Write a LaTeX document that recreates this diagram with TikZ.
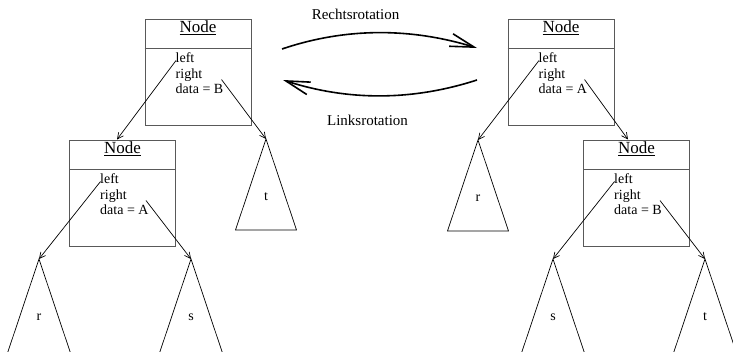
\documentclass[tikz,border=0pt]{standalone}
\usepackage{fontspec}
\setmainfont{Liberation Serif}
\usetikzlibrary{arrows.meta}
\definecolor{boxgray}{gray}{0.35}
\tikzset{
  box/.style={draw=boxgray, line width=1pt, minimum width=106pt, minimum height=106pt, inner sep=0pt},
  divider/.style={draw=boxgray, line width=1pt},
  title/.style={font=\fontsize{17}{17}\selectfont, inner sep=0pt, anchor=base},
  field/.style={font=\fontsize{14}{14}\selectfont, inner sep=0pt, anchor=base west},
  conn/.style={line width=0.7pt, -{Straight Barb[length=6pt,width=6pt]}},
  tri/.style={line width=0.7pt},
  trilabel/.style={font=\fontsize{14}{14}\selectfont, inner sep=0pt},
  rot/.style={line width=1.6pt, -{Straight Barb[length=24pt,width=13pt]}},
  rotlabel/.style={font=\fontsize{15}{15}\selectfont, inner sep=0pt, anchor=base},
}
\begin{document}
\begin{tikzpicture}[x=1pt,y=-1pt]
\clip (0,0) rectangle (733,351);
% boxes
\node[box] (n1) at (198,72) {};
\node[box] (n2) at (122.5,193) {};
\node[box] (n3) at (561,72) {};
\node[box] (n4) at (636.5,193) {};
\foreach \n/\d in {n1/B, n2/A, n3/A, n4/B}{
  \draw[divider] ([yshift=-30pt]\n.north west) -- ([yshift=-30pt]\n.north east);
  \node[title] (\n t) at ([yshift=-14pt]\n.north) {\underline{Node}};
  \node[field] (\n f1) at ([xshift=31pt,yshift=-44pt]\n.north west) {left};
  \node[field] (\n f2) at ([xshift=31pt,yshift=-59.5pt]\n.north west) {right};
  \node[field] (\n f3) at ([xshift=31pt,yshift=-75pt]\n.north west) {data = \d};
  \coordinate (\n L) at ([xshift=31.5pt,yshift=-42pt]\n.north west);
  \coordinate (\n R) at ([xshift=77pt,yshift=-61pt]\n.north west);
}
\coordinate (n2in) at ([xshift=48pt]n2.north west);
\coordinate (n4in) at ([xshift=45pt]n4.north west);
% upper triangles (complete)
\coordinate (tA) at (266,139);
\coordinate (rB) at (478,140);
\foreach \c/\l in {tA/t, rB/r}{
  \draw[tri] (\c) -- ++(-30.5,91) -- ++(61,0) -- cycle;
  \node[trilabel] (\c lab) at ([yshift=-58pt]\c) {\l};
}
% lower triangles (cut off by the lower edge)
\coordinate (rA) at (39,259);
\coordinate (sA) at (191,259);
\coordinate (sB) at (553,259);
\coordinate (tB) at (705,259);
\foreach \c/\l in {rA/r, sA/s, sB/s, tB/t}{
  \draw[tri] (\c) -- ++(-33.5,100) -- ++(67,0) -- cycle;
  \node[trilabel] (\c lab) at ([yshift=-58pt]\c) {\l};
}
% connectors
\draw[conn] (n1L) -- (n2in);
\draw[conn] (n1R) -- (tA);
\draw[conn] (n2L) -- (rA);
\draw[conn] (n2R) -- (sA);
\draw[conn] (n3L) -- (rB);
\draw[conn] (n3R) -- (n4in);
\draw[conn] (n4L) -- (sB);
\draw[conn] (n4R) -- (tB);
% rotation arrows
\coordinate (r1s) at (282,49);
\coordinate (r1e) at (477,48);
\coordinate (r2s) at (477,80);
\coordinate (r2e) at (283,80);
\draw[rot] (r1s) .. controls (347,27) and (412,28) .. (r1e);
\draw[rot] (r2s) .. controls (412,101) and (348,101) .. (r2e);
\node[rotlabel] (rl1) at (355.5,19) {Rechtsrotation};
\node[rotlabel] (rl2) at (367.5,125) {Linksrotation};
\end{tikzpicture}
\end{document}
